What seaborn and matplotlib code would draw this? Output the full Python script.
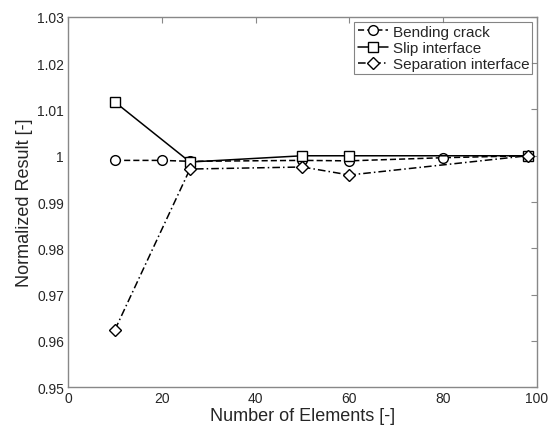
import matplotlib
matplotlib.use("Agg")
import matplotlib.pyplot as plt
import seaborn as sns
import pandas as pd

# values
bending_x = [10, 20, 26, 50, 60, 80, 98]
bending_y = [0.9990, 0.9990, 0.9988, 0.9990, 0.9989, 0.99958, 1.0000]
slip_x = [10, 26, 50, 60, 98]
slip_y = [1.0116, 0.99865, 1.0000, 1.0000, 1.0000]
sep_x = [10, 26, 50, 60, 98]
sep_y = [0.9624, 0.99713, 0.99757, 0.99584, 1.0000]

series = [
    ("Bending crack", bending_x, bending_y, (0, (4, 2)), "o"),
    ("Slip interface", slip_x, slip_y, "-", "s"),
    ("Separation interface", sep_x, sep_y, (0, (5, 2, 1, 2)), "D"),
]

sns.set_style("white")
plt.rcParams["font.family"] = ["Liberation Sans", "DejaVu Sans"]

fig = plt.figure(figsize=(5.49, 4.27), dpi=100)
ax = fig.add_axes([0.124, 0.091, 0.854, 0.867])

for name, xs, ys, ls, mk in series:
    df = pd.DataFrame({"x": xs, "y": ys})
    sns.lineplot(data=df, x="x", y="y", ax=ax, color="black", linestyle=ls,
                 linewidth=1.1, marker=mk, markersize=7 if mk != "D" else 6,
                 markerfacecolor="white", markeredgecolor="black",
                 markeredgewidth=1.0, label=name)

ax.set_xlim(0, 100)
ax.set_ylim(0.95, 1.03)
ax.set_xticks([0, 20, 40, 60, 80, 100])
ax.set_yticks([0.95, 0.96, 0.97, 0.98, 0.99, 1.0, 1.01, 1.02, 1.03])
ax.set_yticklabels(["0.95", "0.96", "0.97", "0.98", "0.99", "1", "1.01", "1.02", "1.03"])
ax.tick_params(direction="in", length=4, labelsize=10, color="#888888",
               top=True, right=True, pad=3)
for sp in ax.spines.values():
    sp.set_color("#888888")
    sp.set_linewidth(1.0)
ax.set_xlabel("Number of Elements [-]", fontsize=13, labelpad=1)
ax.set_ylabel("Normalized Result [-]", fontsize=13, labelpad=3)

leg = ax.legend(loc="upper right", fontsize=11, frameon=True, fancybox=False,
                edgecolor="#666666", handlelength=2.0, handletextpad=0.3,
                borderaxespad=0.3, borderpad=0.2, labelspacing=0.15)
leg.get_frame().set_linewidth(0.8)

fig.savefig("out.png", dpi=100)
